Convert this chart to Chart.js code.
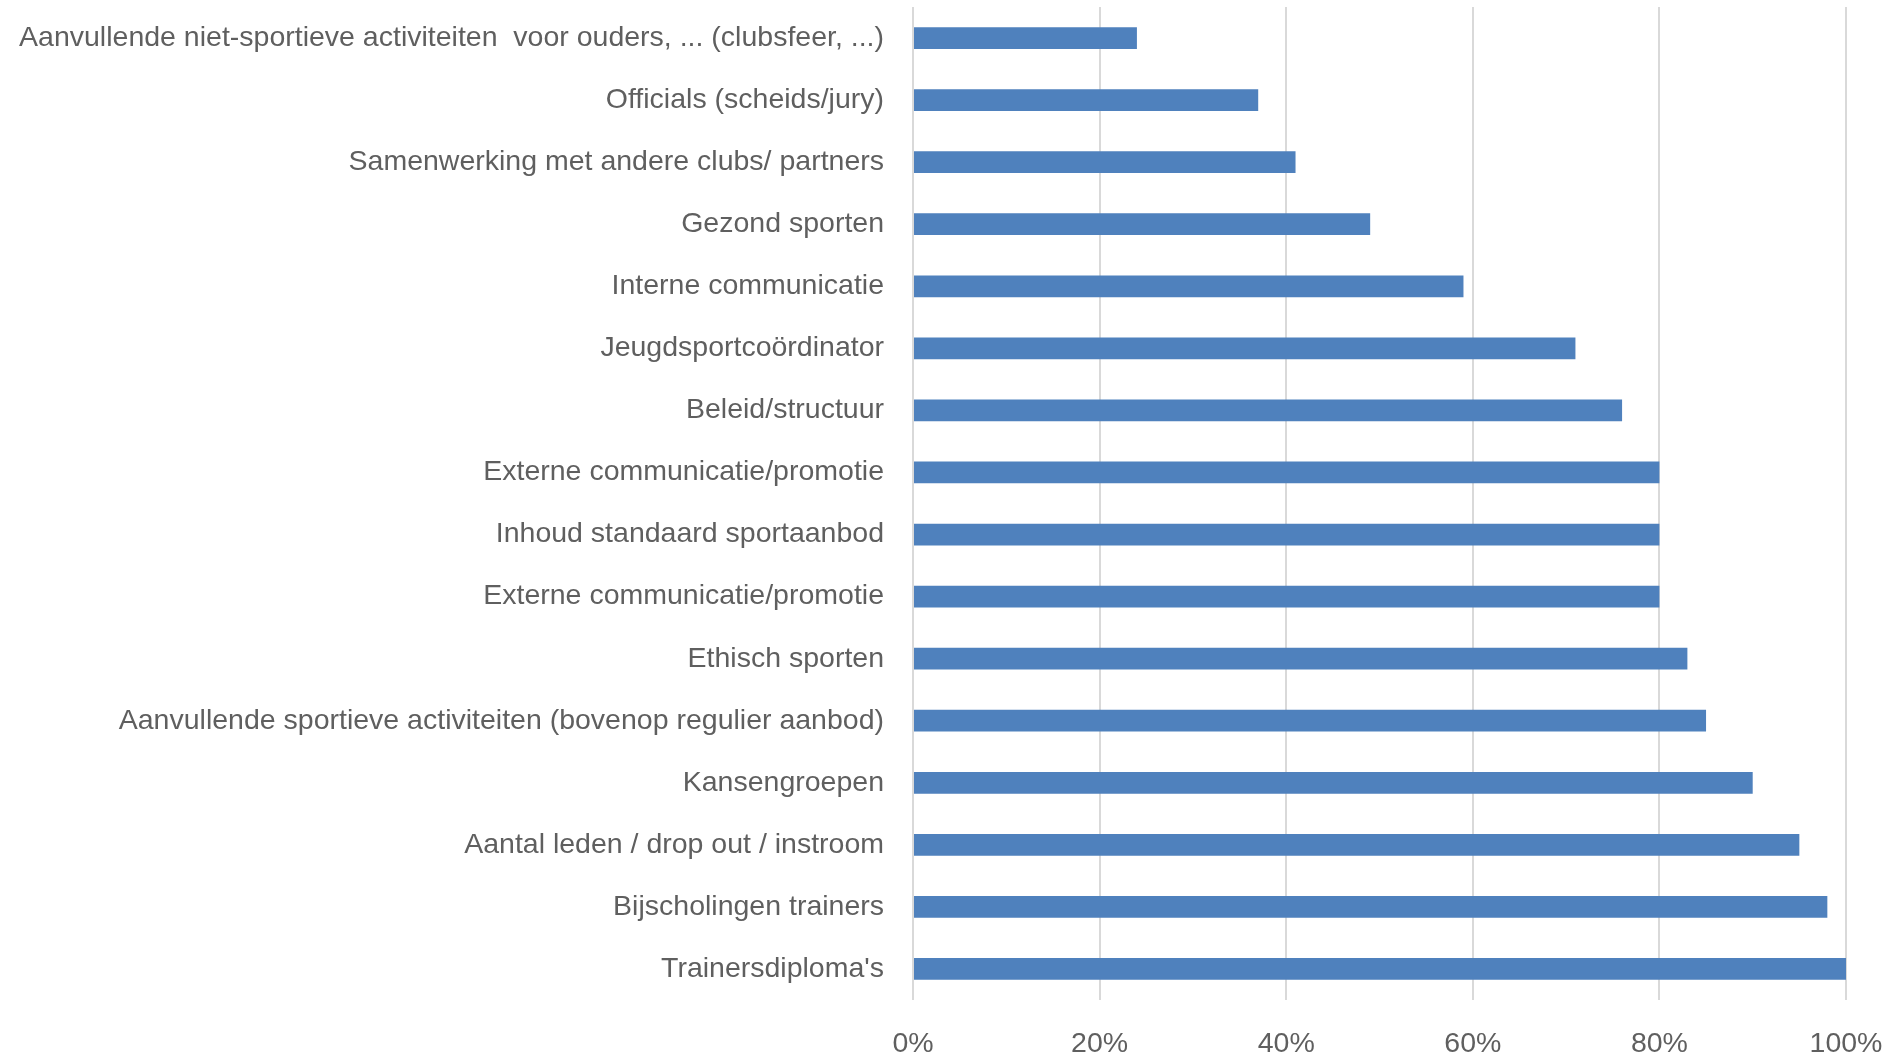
<!DOCTYPE html>
<html>
<head>
<meta charset="utf-8">
<script src="https://cdn.jsdelivr.net/npm/chart.js@4"></script>
<style>
  html, body { margin: 0; padding: 0; background: #fff; }
  #wrap { width: 1890px; height: 1053px; }
</style>
</head>
<body>
<div id="wrap"><canvas id="myChart"></canvas></div>
<script>
// data block
const categories = [
  'Aanvullende niet-sportieve activiteiten  voor ouders, ... (clubsfeer, ...)',
  'Officials (scheids/jury)',
  'Samenwerking met andere clubs/ partners',
  'Gezond sporten',
  'Interne communicatie',
  'Jeugdsportcoördinator',
  'Beleid/structuur',
  'Externe communicatie/promotie',
  'Inhoud standaard sportaanbod',
  'Externe communicatie/promotie',
  'Ethisch sporten',
  'Aanvullende sportieve activiteiten (bovenop regulier aanbod)',
  'Kansengroepen',
  'Aantal leden / drop out / instroom',
  'Bijscholingen trainers',
  "Trainersdiploma's"
];
const values = [24, 37, 41, 49, 59, 71, 76, 80, 80, 80, 83, 85, 90, 95, 98, 100];
const tickValues = [0, 20, 40, 60, 80, 100];

const labelFont = { family: "'Liberation Sans Narrow', 'Liberation Sans', sans-serif", size: 28.5 };
const textColor = '#5f5f5f';

// config
const config = {
  type: 'bar',
  data: {
    labels: categories,
    datasets: [{
      data: values,
      backgroundColor: '#4F81BD',
      borderWidth: 0,
      categoryPercentage: 1,
      barPercentage: 0.35
    }]
  },
  options: {
    indexAxis: 'y',
    responsive: true,
    maintainAspectRatio: false,
    animation: false,
    layout: { padding: { top: 7, right: 44, left: 0, bottom: 0 } },
    plugins: {
      legend: { display: false },
      tooltip: { enabled: false }
    },
    scales: {
      x: {
        min: 0,
        max: 100,
        afterBuildTicks(axis) {
          axis.ticks = tickValues.map(v => ({ value: v }));
        },
        afterFit(axis) {
          axis.height = 53;
          axis.paddingLeft = 0;
          axis.paddingRight = 0;
        },
        border: { display: false },
        grid: { color: '#d9d9d9', lineWidth: 2, drawTicks: false },
        ticks: {
          padding: 27,
          color: textColor,
          font: labelFont,
          callback: v => v + '%'
        }
      },
      y: {
        afterFit(axis) {
          axis.width = 913;
          axis.paddingTop = 0;
          axis.paddingBottom = 0;
        },
        border: { display: false },
        grid: { display: false },
        ticks: {
          padding: 21,
          color: textColor,
          font: labelFont,
          autoSkip: false
        }
      }
    }
  }
};

const myChart = new Chart(document.getElementById('myChart'), config);
</script>
</body>
</html>
